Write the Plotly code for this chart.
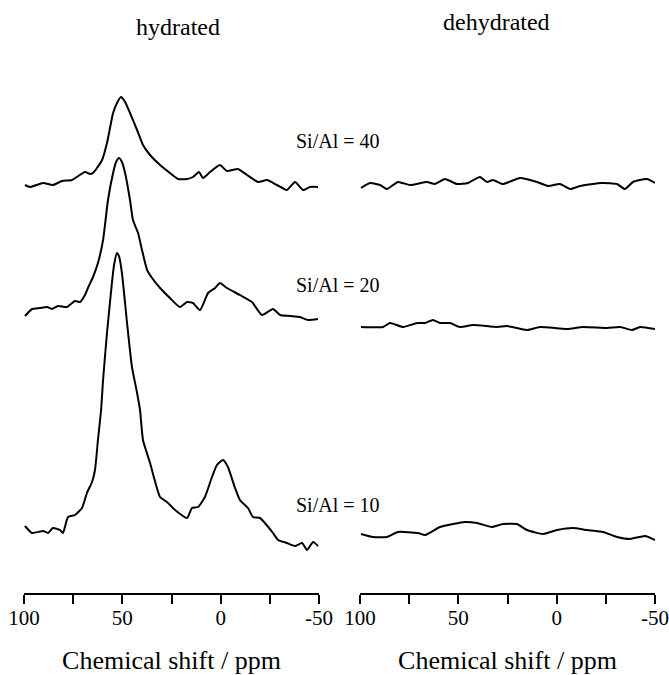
import plotly.graph_objects as go

# ---------------- data (ppm, relative intensity) ----------------
samples = ["Si/Al = 40", "Si/Al = 20", "Si/Al = 10"]

# hydrated, Si/Al = 40
h40_ppm = [99.5, 96.9, 90.3, 85.3, 80.7, 75.6, 69.0, 66.4, 64.9, 62.9, 60.3, 57.8, 54.7, 52.7, 50.7,
           48.6, 46.1, 42.5, 39.5, 35.9, 30.8, 25.8, 21.7, 17.1, 14.1, 11.0, 9.0, 5.4, 0.4, -3.2,
           -8.8, -13.4, -19.0, -23.6, -28.6, -33.7, -37.8, -41.9, -45.4, -49.5]
h40_int = [1, -1, 3, 1, 5, 6, 14, 12, 13, 18, 26, 43, 73, 83, 89,
           84, 73, 56, 41, 31, 21, 13, 7, 7, 9, 14, 8, 14, 21, 15,
           17, 11, 4, 6, 1, -4, 4, -4, -1, -1]

# hydrated, Si/Al = 20
h20_ppm = [99.5, 95.9, 91.9, 88.3, 85.8, 82.7, 78.1, 74.1, 71.5, 69.0, 67.5, 64.9, 62.4, 59.8, 57.3,
           54.7, 53.2, 51.7, 50.2, 48.6, 46.1, 44.6, 42.0, 40.0, 37.4, 34.9, 30.8, 25.8, 20.7, 17.1,
           14.1, 10.5, 6.4, 2.8, 0.4, -3.2, -9.8, -15.9, -21.0, -26.6, -30.2, -35.3, -40.3, -44.4, -49.5]
h20_int = [0, 7, 8, 9, 7, 10, 9, 15, 14, 21, 28, 39, 53, 76, 116,
           143, 154, 158, 154, 143, 116, 96, 83, 66, 46, 38, 28, 18, 9, 14,
           13, 6, 23, 28, 33, 28, 21, 14, 1, 7, 1, 0, -1, -4, -3]

# hydrated, Si/Al = 10
h10_ppm = [99.5, 95.9, 90.3, 87.8, 85.3, 81.7, 80.2, 77.6, 74.1, 70.5, 68.0, 65.4, 63.9, 62.4, 60.8,
           59.8, 57.8, 55.3, 54.2, 52.7, 51.7, 50.2, 47.6, 45.1, 42.5, 41.0, 39.5, 35.9, 30.8, 27.3,
           23.2, 17.1, 14.6, 11.5, 8.0, 4.4, 1.9, -1.2, -3.7, -7.3, -9.8, -13.9, -16.4, -20.0, -22.5,
           -26.6, -29.2, -33.7, -37.8, -41.4, -43.9, -47.0, -49.5]
h10_int = [4, -3, -1, -3, 2, 0, -3, 13, 15, 22, 37, 48, 60, 90, 120,
           150, 197, 247, 265, 277, 274, 257, 207, 163, 137, 120, 90, 67, 33, 28,
           20, 12, 22, 23, 33, 53, 65, 70, 63, 42, 30, 22, 13, 12, 7,
           -3, -10, -13, -16, -13, -20, -12, -16]

# dehydrated, Si/Al = 40
d40_ppm = [99.5, 94.9, 89.8, 86.3, 80.7, 74.6, 65.9, 61.9, 56.8, 50.7, 45.1, 39.0, 35.4, 32.4, 27.3,
           18.6, 10.0, 4.4, -1.7, -6.8, -11.9, -23.0, -30.7, -34.7, -38.8, -45.9, -50.0]
d40_int = [-4, 1, -1, -5, 2, -1, 2, 0, 5, 0, 1, 7, 2, 4, 0,
           6, 2, -2, 0, -5, -2, 1, 0, -5, 2, 5, 1]

# dehydrated, Si/Al = 20
d20_ppm = [99.5, 88.3, 84.7, 78.1, 71.0, 66.9, 62.9, 59.3, 54.2, 49.2, 42.5, 30.3, 25.3, 15.1, 8.5,
           -5.3, -13.4, -25.6, -32.2, -38.3, -42.4, -50.0]
d20_int = [0, 0, 4, 0, 4, 4, 7, 4, 4, 0, 2, 0, 1, -3, 0,
           -2, 0, -1, 0, -3, 0, -2]

# dehydrated, Si/Al = 10
d10_ppm = [99.5, 93.4, 86.3, 80.7, 70.5, 66.9, 59.3, 52.7, 46.6, 40.5, 32.9, 27.3, 20.2, 15.1, 6.9,
           -0.2, -8.3, -15.4, -23.6, -30.7, -37.3, -44.9, -50.0]
d10_int = [-1, -4, -4, 1, 0, -2, 6, 9, 11, 10, 6, 9, 9, 3, -1,
           3, 5, 3, 1, -4, -6, -3, -7]

# vertical stacking offsets of each spectrum
hyd_offsets = [407, 277, 63]
dehyd_offsets = [409, 266, 60]

tick_vals = [100, 75, 50, 25, 0, -25, -50]
tick_text = ["100", "", "50", "", "0", "", "-50"]

# ---------------- figure ----------------
FONT = "Liberation Serif"
W, H = 669, 675
fig = go.Figure()

hyd = [(h40_ppm, h40_int), (h20_ppm, h20_int), (h10_ppm, h10_int)]
dehyd = [(d40_ppm, d40_int), (d20_ppm, d20_int), (d10_ppm, d10_int)]

line_style = dict(color="black", width=2, shape="spline", smoothing=0.5)
for (ppm, inten), off, name in zip(hyd, hyd_offsets, samples):
    fig.add_trace(go.Scatter(x=ppm, y=[v + off for v in inten], mode="lines",
                             line=line_style, name="hydrated " + name,
                             xaxis="x", yaxis="y", showlegend=False, hoverinfo="skip"))
for (ppm, inten), off, name in zip(dehyd, dehyd_offsets, samples):
    fig.add_trace(go.Scatter(x=ppm, y=[v + off for v in inten], mode="lines",
                             line=line_style, name="dehydrated " + name,
                             xaxis="x2", yaxis="y2", showlegend=False, hoverinfo="skip"))

B = 82
plot_h = H - B
xaxis_common = dict(range=[100, -50], tickmode="array", tickvals=tick_vals, ticktext=tick_text,
                    ticks="outside", ticklen=9, tickwidth=2, tickcolor="black",
                    showline=True, linewidth=2, linecolor="black", showgrid=False, zeroline=False,
                    automargin=False, ticklabelstandoff=-4,
                    tickfont=dict(family=FONT, size=21, color="black"),
                    title=dict(text="Chemical shift / ppm", standoff=23,
                               font=dict(family=FONT, size=26, color="black")))
yaxis_common = dict(range=[0, plot_h], visible=False, showgrid=False, zeroline=False, automargin=False)

fig.update_layout(
    template="none",
    width=W, height=H,
    margin=dict(l=0, r=0, t=0, b=B, autoexpand=False),
    paper_bgcolor="white", plot_bgcolor="white",
    xaxis=dict(domain=[24 / W, 319 / W], **xaxis_common),
    xaxis2=dict(domain=[360 / W, 655 / W], anchor="y2", **xaxis_common),
    yaxis=dict(domain=[0, 1], anchor="x", **yaxis_common),
    yaxis2=dict(domain=[0, 1], anchor="x2", **yaxis_common),
)

annos = [
    ("hydrated", 178, 27, 24),
    ("dehydrated", 496, 22, 24),
    ("Si/Al = 40", 338, 141, 20),
    ("Si/Al = 20", 338, 285, 20),
    ("Si/Al = 10", 338, 505, 20),
]
for text, px, py, size in annos:
    fig.add_annotation(text=text, xref="paper", yref="paper",
                       x=px / W, y=(plot_h - py) / plot_h,
                       xanchor="center", yanchor="middle",
                       showarrow=False, font=dict(family=FONT, size=size, color="black"))

fig.write_html("out.html",
               config={"displayModeBar": False, "staticPlot": True},
               post_script="document.body.style.margin='0px';document.body.style.overflow='hidden';")
